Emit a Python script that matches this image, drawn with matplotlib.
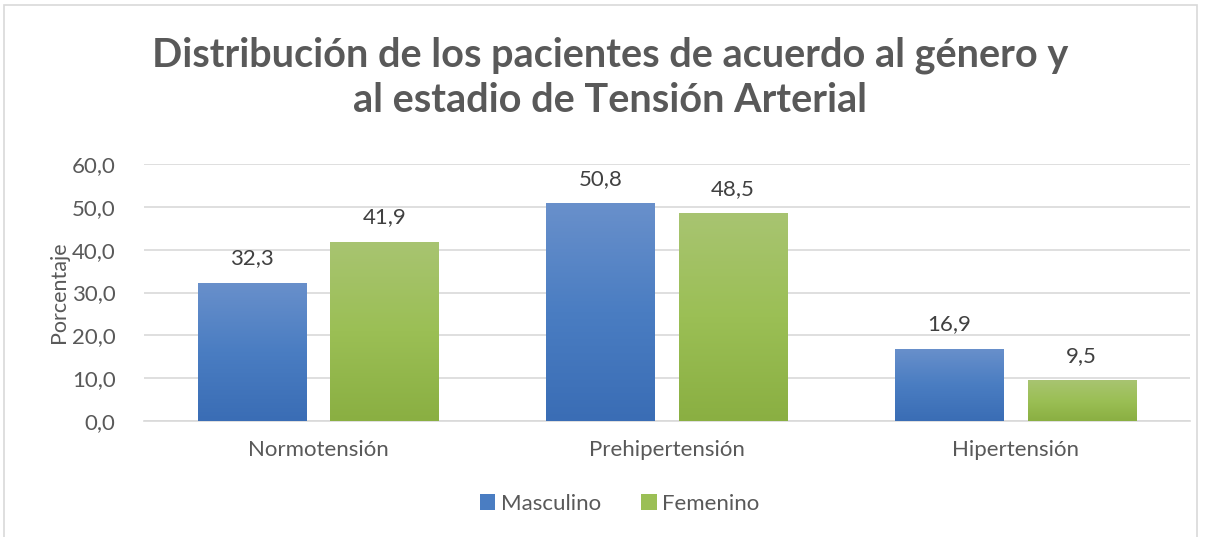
import numpy as np
import matplotlib
matplotlib.use("Agg")
from matplotlib import pyplot as plt
from matplotlib.patches import Rectangle
from matplotlib.colors import LinearSegmentedColormap

# data
categorias = ["Normotensión", "Prehipertensión", "Hipertensión"]
masculino = [32.3, 50.8, 16.9]
femenino = [41.9, 48.5, 9.5]
series = ["Masculino", "Femenino"]
yticks = [0, 10, 20, 30, 40, 50, 60]

plt.rcParams['font.family'] = ['Lato', 'DejaVu Sans']
gris = '#595959'

fig = plt.figure(figsize=(12.08, 5.37), dpi=100)
ax = fig.add_axes([0.1188, 0.216, 0.8662, 0.4786])

# outer chart frame
fig.patches.append(Rectangle((4 / 1208, -0.01), 1193 / 1208, 1.01 - 5 / 537,
                             transform=fig.transFigure, fill=False,
                             edgecolor='#D9D9D9', lw=1.2, zorder=0))

x = np.arange(len(categorias))
ancho = 0.31
desp = 0.19

grad_azul = LinearSegmentedColormap.from_list('az', ['#3A6DB5', '#4A7DC2', '#6990CB'])
grad_verde = LinearSegmentedColormap.from_list('ve', ['#8AAF42', '#9BBF55', '#A8C471'])

def coma(v):
    return f"{v:.1f}".replace('.', ',')

def barras_degradado(pos, vals, cmap, etiqueta, legcolor):
    bars = ax.bar(pos, vals, ancho, color=legcolor, label=etiqueta, zorder=2)
    grad = np.linspace(0, 1, 256).reshape(-1, 1)
    for b in bars:
        x0, y0 = b.get_x(), b.get_y()
        w, h = b.get_width(), b.get_height()
        im = ax.imshow(grad, cmap=cmap, aspect='auto', origin='lower',
                       extent=[x0, x0 + w, y0, y0 + h], zorder=3)
        im.set_clip_path(b)
    for b, v in zip(bars, vals):
        ax.text(b.get_x() + b.get_width() / 2, v + 3.3, coma(v),
                ha='center', va='bottom', fontsize=16, color='#404040')
    return bars

barras_degradado(x - desp, masculino, grad_azul, series[0], '#4A7DC2')
barras_degradado(x + desp, femenino, grad_verde, series[1], '#9BBF55')

ax.set_xlim(-0.5, len(categorias) - 0.5)
ax.set_ylim(0, 60)
ax.set_yticks(yticks)
ax.set_yticklabels([coma(t) for t in yticks], fontsize=16, color=gris)
ax.set_xticks(x)
ax.set_xticklabels(categorias, fontsize=16, color=gris)
ax.tick_params(length=0)
ax.tick_params(axis='x', pad=14)
ax.tick_params(axis='y', pad=20)
ax.grid(axis='y', color='#D9D9D9', lw=1.2, zorder=0)
ax.set_axisbelow(True)
for s in ['top', 'right', 'left']:
    ax.spines[s].set_visible(False)
ax.spines['bottom'].set_color('#D9D9D9')
ax.spines['bottom'].set_linewidth(1.2)
ax.set_ylabel("Porcentaje", fontsize=15.5, color=gris, labelpad=2)

fig.text(0.505, 0.855, "Distribución de los pacientes de acuerdo al género y\nal estadio de Tensión Arterial",
         ha='center', va='center', fontsize=28.5, fontweight='bold', color=gris,
         linespacing=1.28)

fig.legend(*ax.get_legend_handles_labels(), loc='center', bbox_to_anchor=(0.513, 0.062),
           ncol=2, frameon=False, fontsize=16, labelcolor=gris, handlelength=0.7,
           handleheight=0.7, handletextpad=0.25, columnspacing=1.8)

fig.savefig("out.png", dpi=100)
